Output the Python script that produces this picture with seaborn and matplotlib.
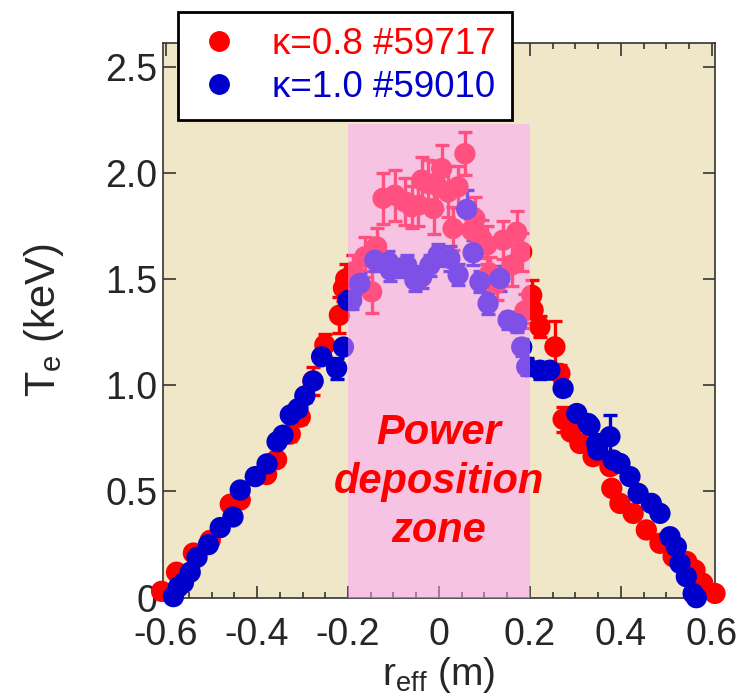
import numpy as np
import pandas as pd
import matplotlib
matplotlib.use('Agg')
import matplotlib.pyplot as plt
from matplotlib.lines import Line2D
from matplotlib.ticker import MultipleLocator
import seaborn as sns

# kappa = 0.8, shot #59717
r_k08 = [-0.610, -0.577, -0.540, -0.503, -0.459, -0.437, -0.379, -0.357, -0.327, -0.305,
         -0.277, -0.251, -0.219, -0.210, -0.205,
         -0.188, -0.163, -0.148, -0.137, -0.123, -0.097, -0.075, -0.060, -0.045, -0.038,
         -0.024, -0.012, -0.005, 0.006, 0.020, 0.031, 0.042, 0.057, 0.072, 0.079,
         0.094, 0.105, 0.112, 0.127, 0.141, 0.160, 0.171, 0.182, 0.189,
         0.204, 0.207, 0.222, 0.255, 0.266, 0.273, 0.290, 0.310, 0.339, 0.376,
         0.380, 0.398, 0.427, 0.456, 0.486, 0.515, 0.545, 0.563, 0.580, 0.607]
te_k08 = [0.03, 0.12, 0.21, 0.27, 0.44, 0.46, 0.58, 0.65, 0.77, 0.85,
          1.02, 1.19, 1.33, 1.457, 1.50,
          1.534, 1.605, 1.44, 1.652, 1.88, 1.895, 1.864, 1.84, 1.848, 1.966,
          1.95, 1.832, 1.94, 2.02, 1.91, 1.738, 1.934, 2.09, 1.73, 1.785,
          1.69, 1.66, 1.526, 1.48, 1.683, 1.566, 1.72, 1.628, 1.35,
          1.424, 1.354, 1.275, 1.181, 1.056, 0.84, 0.78, 0.726, 0.664, 0.617,
          0.515, 0.444, 0.397, 0.319, 0.256, 0.193, 0.17, 0.13, 0.068, 0.02]
err_k08 = [0.02, 0.02, 0.02, 0.02, 0.02, 0.02, 0.02, 0.02, 0.03, 0.03,
           0.065, 0.05, 0.085, 0.06, 0.07,
           0.08, 0.094, 0.10, 0.09, 0.12, 0.12, 0.11, 0.10, 0.10, 0.11,
           0.11, 0.12, 0.11, 0.11, 0.12, 0.10, 0.10, 0.10, 0.10, 0.10,
           0.09, 0.09, 0.08, 0.08, 0.09, 0.10, 0.10, 0.09, 0.08,
           0.07, 0.06, 0.05, 0.12, 0.04, 0.06, 0.03, 0.03, 0.03, 0.03,
           0.02, 0.02, 0.02, 0.02, 0.02, 0.02, 0.02, 0.02, 0.02, 0.02]

# kappa = 1.0, shot #59010
r_k10 = [-0.584, -0.573, -0.562, -0.547, -0.532, -0.507, -0.481, -0.453, -0.437, -0.404,
         -0.378, -0.356, -0.343, -0.327, -0.310, -0.295, -0.277, -0.258, -0.225, -0.210,
         -0.200,
         -0.192, -0.174, -0.141, -0.111, -0.107, -0.090, -0.071, -0.053, -0.038, -0.020,
         -0.002, 0.024, 0.042, 0.061, 0.075, 0.090, 0.108, 0.134, 0.152, 0.171,
         0.182, 0.193,
         0.222, 0.244, 0.273, 0.303, 0.328, 0.332, 0.347, 0.349, 0.376, 0.383,
         0.398, 0.420, 0.438, 0.467, 0.486, 0.508, 0.522, 0.530, 0.544, 0.559, 0.566]
te_k10 = [0.005, 0.05, 0.07, 0.12, 0.19, 0.25, 0.33, 0.38, 0.507, 0.57,
          0.63, 0.734, 0.765, 0.86, 0.89, 0.95, 1.02, 1.134, 1.08, 1.18,
          1.40,
          1.40, 1.48, 1.589, 1.58, 1.542, 1.55, 1.565, 1.495, 1.51, 1.565,
          1.613, 1.597, 1.52, 1.828, 1.624, 1.487, 1.385, 1.503, 1.307, 1.29,
          1.18, 1.087,
          1.071, 1.071, 0.985, 0.867, 0.82, 0.81, 0.727, 0.695, 0.758, 0.648,
          0.632, 0.57, 0.491, 0.444, 0.397, 0.287, 0.24, 0.162, 0.099, 0.02, 0.0]
err_k10 = [0.02, 0.02, 0.02, 0.02, 0.02, 0.02, 0.02, 0.02, 0.02, 0.02,
           0.02, 0.02, 0.02, 0.03, 0.03, 0.03, 0.03, 0.03, 0.05, 0.03,
           0.04,
           0.04, 0.05, 0.05, 0.05, 0.05, 0.04, 0.05, 0.05, 0.05, 0.05,
           0.05, 0.06, 0.05, 0.09, 0.06, 0.05, 0.05, 0.06, 0.04, 0.04,
           0.04, 0.04,
           0.04, 0.03, 0.03, 0.03, 0.03, 0.03, 0.03, 0.03, 0.10, 0.03,
           0.03, 0.03, 0.02, 0.02, 0.02, 0.02, 0.02, 0.02, 0.02, 0.02, 0.02]

labels = ['κ=0.8 #59717', 'κ=1.0 #59010']
colors = ['#ff0000', '#0000cc']
x_ticks = [-0.6, -0.4, -0.2, 0, 0.2, 0.4, 0.6]
x_ticklabels = ['-0.6', '-0.4', '-0.2', '0', '0.2', '0.4', '0.6']
y_ticks = [0, 0.5, 1.0, 1.5, 2.0, 2.5]
y_ticklabels = ['0', '0.5', '1.0', '1.5', '2.0', '2.5']

df = pd.concat([
    pd.DataFrame({'r': r_k08, 'Te': te_k08, 'err': err_k08, 'shot': labels[0]}),
    pd.DataFrame({'r': r_k10, 'Te': te_k10, 'err': err_k10, 'shot': labels[1]}),
], ignore_index=True)

sns.set_style('ticks')
plt.rcParams['font.family'] = ['Liberation Sans', 'DejaVu Sans']
plt.rcParams['mathtext.fontset'] = 'custom'
plt.rcParams['mathtext.rm'] = 'Liberation Sans'
plt.rcParams['mathtext.it'] = 'Liberation Sans:italic'

fig = plt.figure(figsize=(7.44, 6.98), dpi=100)
ax = fig.add_axes([0.219, 0.1437, 0.742, 0.7943])
ax.set_facecolor('#efe7c8')

for lab, col in zip(labels, colors):
    d = df[df['shot'] == lab]
    ax.errorbar(d['r'], d['Te'], yerr=d['err'], fmt='none', ecolor=col,
                elinewidth=2.4, capsize=5, capthick=2.4, zorder=2, clip_on=False)

sns.scatterplot(data=df, x='r', y='Te', hue='shot', palette=dict(zip(labels, colors)),
                s=235, edgecolor='none', linewidth=0, legend=False, ax=ax,
                zorder=3, clip_on=False)

# heating zone overlay
ax.axvspan(-0.2, 0.2, ymin=0, ymax=2.23 / 2.61, color=(1.0, 0.63, 1.0), alpha=0.5,
           lw=0, zorder=4)
ax.text(0, 0.545, 'Power\ndeposition\nzone', color='#ff0000', fontsize=30,
        fontweight='bold', fontstyle='italic', ha='center', va='center',
        linespacing=1.28, zorder=5)

ax.set_xlim(-0.607, 0.607)
ax.set_ylim(0, 2.61)
ax.set_xticks(x_ticks)
ax.set_xticklabels(x_ticklabels)
ax.set_yticks(y_ticks)
ax.set_yticklabels(y_ticklabels)
ax.xaxis.set_minor_locator(MultipleLocator(0.05))
ax.tick_params(which='both', direction='in', top=True, right=True,
               color='#333333', width=1.2)
ax.tick_params(which='major', length=9, labelsize=27)
ax.tick_params(which='minor', length=4.5)
ax.tick_params(axis='x', pad=14)
ax.tick_params(axis='y', pad=4)
for sp in ax.spines.values():
    sp.set_color('#333333')
    sp.set_linewidth(1.2)

ax.set_xlabel(r'r$_{\mathrm{eff}}$ (m)', fontsize=28, labelpad=1)
ax.set_ylabel(r'T$_{\mathrm{e}}$ (keV)', fontsize=30, labelpad=28)

handles = [Line2D([], [], marker='o', ls='none', color=c, markersize=14) for c in colors]
leg = ax.legend(handles, labels, loc='upper left', bbox_to_anchor=(0.239, 0.983),
                bbox_transform=fig.transFigure, fontsize=26.5, frameon=True,
                fancybox=False, framealpha=1, edgecolor='black', borderpad=0.42,
                handletextpad=0.75, labelspacing=0.2, handlelength=1.4, borderaxespad=0)
leg.get_frame().set_linewidth(2)
leg.set_zorder(10)
for t, c in zip(leg.get_texts(), colors):
    t.set_color(c)

fig.savefig('out.png', dpi=100)
